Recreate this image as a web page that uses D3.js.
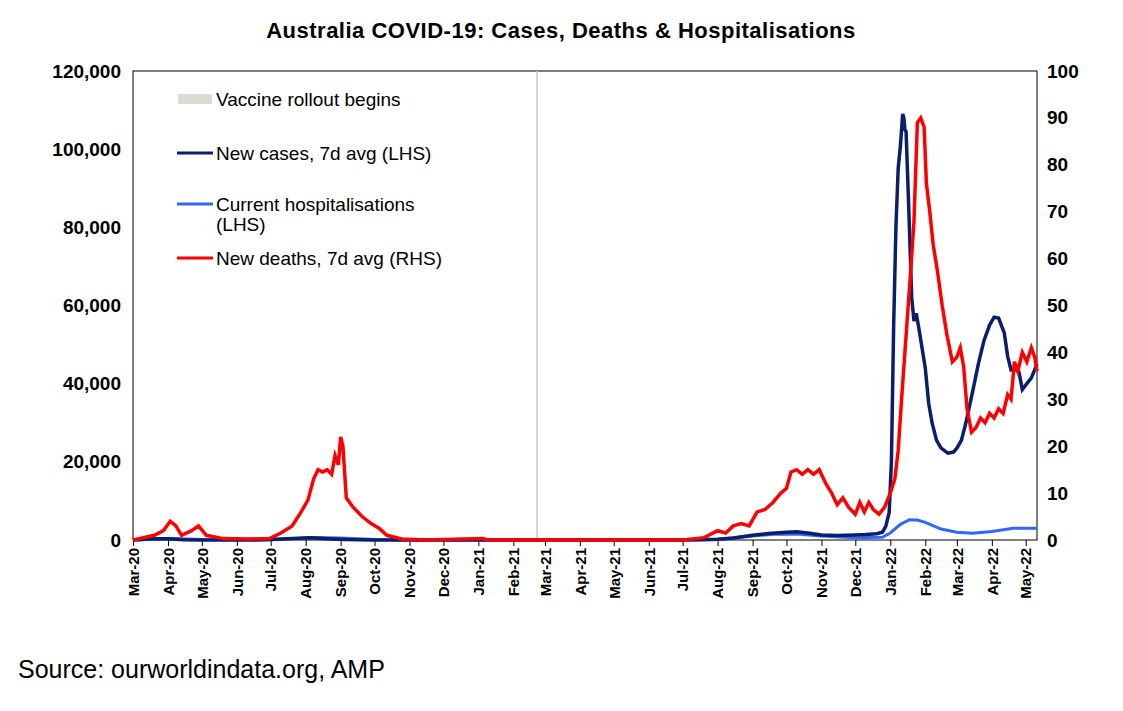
<!DOCTYPE html>
<html>
<head>
<meta charset="utf-8">
<script src="https://cdn.jsdelivr.net/npm/d3@7"></script>
<style>
  body { margin: 0; background: #fff; font-family: Arial, "Liberation Sans", sans-serif; }
</style>
</head>
<body>
<svg id="chart" width="1123" height="711"></svg>
<script>
// Series: [date, value]
const casesData = [
  ["2020-03-01",0],["2020-03-20",300],["2020-04-01",350],["2020-04-15",50],["2020-05-01",20],
  ["2020-06-15",10],["2020-07-01",100],["2020-07-20",400],["2020-08-05",550],["2020-08-20",350],
  ["2020-09-05",100],["2020-09-30",20],["2021-01-01",20],["2021-06-30",10],["2021-07-15",50],
  ["2021-08-01",200],["2021-08-15",500],["2021-09-01",1200],["2021-09-15",1650],["2021-10-01",2000],
  ["2021-10-10",2100],["2021-10-20",1800],["2021-11-01",1300],["2021-11-15",1150],["2021-12-01",1300],
  ["2021-12-10",1400],["2021-12-20",1600],["2021-12-25",2000],["2021-12-28",3500],["2021-12-31",7000],
  ["2022-01-02",20000],["2022-01-04",55000],["2022-01-06",80000],["2022-01-08",95000],["2022-01-10",101000],
  ["2022-01-12",109000],["2022-01-13",108000],["2022-01-14",105000],["2022-01-15",104500],["2022-01-17",88000],
  ["2022-01-20",62000],["2022-01-22",56000],["2022-01-24",58000],["2022-01-27",53000],["2022-02-01",44000],
  ["2022-02-04",35000],["2022-02-07",30000],["2022-02-11",25500],["2022-02-15",23500],["2022-02-21",22200],
  ["2022-02-26",22500],["2022-03-01",23500],["2022-03-05",25500],["2022-03-09",30000],["2022-03-15",38000],
  ["2022-03-20",45000],["2022-03-25",51000],["2022-03-30",55000],["2022-04-03",57000],["2022-04-07",56800],
  ["2022-04-12",53000],["2022-04-15",47000],["2022-04-18",43500],["2022-04-22",43600],["2022-04-25",43000],
  ["2022-04-28",38500],["2022-05-02",40000],["2022-05-06",41500],["2022-05-11",45000]
];
const hospData = [
  ["2020-03-01",0],["2020-04-05",400],["2020-05-01",100],["2020-07-01",50],["2020-08-10",650],
  ["2020-09-01",500],["2020-10-01",100],["2020-11-01",20],["2021-07-01",20],["2021-08-01",100],
  ["2021-09-01",1000],["2021-09-20",1500],["2021-10-10",1550],["2021-11-01",1000],["2021-12-01",600],
  ["2021-12-25",700],["2022-01-01",1800],["2022-01-10",4000],["2022-01-18",5200],["2022-01-25",5100],
  ["2022-02-01",4500],["2022-02-15",2800],["2022-03-01",2000],["2022-03-15",1700],["2022-04-01",2200],
  ["2022-04-20",3000],["2022-05-11",3000]
];
const deathsData = [
  ["2020-03-01",0],["2020-03-20",1],["2020-03-28",2],["2020-04-03",4],["2020-04-08",3],["2020-04-13",1],
  ["2020-04-22",2],["2020-04-28",3],["2020-05-05",1],["2020-05-20",0.3],["2020-06-10",0.2],["2020-06-30",0.3],
  ["2020-07-10",1.5],["2020-07-20",3],["2020-07-28",6],["2020-08-03",8.5],["2020-08-08",13],["2020-08-12",15],
  ["2020-08-16",14.5],["2020-08-20",15],["2020-08-24",14],["2020-08-27",18],["2020-08-30",16],["2020-09-01",22],
  ["2020-09-03",20],["2020-09-06",9],["2020-09-12",7],["2020-09-20",5],["2020-09-28",3.5],["2020-10-05",2.5],
  ["2020-10-12",1],["2020-10-25",0.2],["2020-11-15",0],["2021-01-05",0.3],["2021-01-10",0],["2021-07-01",0],
  ["2021-07-20",0.5],["2021-08-01",2],["2021-08-08",1.5],["2021-08-15",3],["2021-08-22",3.5],["2021-08-29",3],
  ["2021-09-05",6],["2021-09-12",6.5],["2021-09-19",8],["2021-09-26",10],["2021-10-01",11],["2021-10-05",14.5],
  ["2021-10-10",15],["2021-10-15",14],["2021-10-20",15],["2021-10-25",14],["2021-10-30",15],["2021-11-05",12],
  ["2021-11-10",10],["2021-11-15",7.5],["2021-11-20",9],["2021-11-25",7],["2021-12-01",5.5],["2021-12-05",8],
  ["2021-12-09",6],["2021-12-13",8],["2021-12-17",6.5],["2021-12-22",5.5],["2021-12-27",7],["2022-01-01",10],
  ["2022-01-05",13],["2022-01-08",19],["2022-01-11",30],["2022-01-16",47],["2022-01-19",57],["2022-01-22",68],
  ["2022-01-25",89],["2022-01-28",90],["2022-01-31",88],["2022-02-02",76],["2022-02-05",70],["2022-02-08",63],
  ["2022-02-12",57],["2022-02-16",50],["2022-02-20",44],["2022-02-25",38],["2022-03-01",39],["2022-03-04",41],
  ["2022-03-07",37],["2022-03-10",28],["2022-03-14",23],["2022-03-18",24],["2022-03-22",26],["2022-03-26",25],
  ["2022-03-30",27],["2022-04-03",26],["2022-04-07",28],["2022-04-11",27],["2022-04-15",31],["2022-04-18",30],
  ["2022-04-21",38],["2022-04-24",36],["2022-04-28",40],["2022-05-02",38],["2022-05-06",41],["2022-05-09",39],
  ["2022-05-11",36]
];
const vaccineDate = "2021-02-22";
const leftTicks = [0, 20000, 40000, 60000, 80000, 100000, 120000];
const rightTicks = [0, 10, 20, 30, 40, 50, 60, 70, 80, 90, 100];

const parse = d3.timeParse("%Y-%m-%d");
const svg = d3.select("#chart");
const plotLeft = 133, plotRight = 1037, plotTop = 71, plotBottom = 540;

const x = d3.scaleTime().domain([parse("2020-03-01"), parse("2022-05-11")]).range([plotLeft, plotRight]);
const yL = d3.scaleLinear().domain([0, 120000]).range([plotBottom, plotTop]);
const yR = d3.scaleLinear().domain([0, 100]).range([plotBottom, plotTop]);

// Title
svg.append("text").attr("x", 561).attr("y", 38).attr("text-anchor", "middle")
  .style("font-size", "22px").style("font-weight", "bold").style("letter-spacing", "0.5px")
  .text("Australia COVID-19: Cases, Deaths & Hospitalisations");

// Frame
svg.append("rect").attr("x", plotLeft).attr("y", plotTop).attr("width", plotRight - plotLeft).attr("height", plotBottom - plotTop)
  .attr("fill", "none").attr("stroke", "#000").attr("stroke-width", 1);

// Vaccine line
svg.append("line").attr("x1", x(parse(vaccineDate))).attr("x2", x(parse(vaccineDate)))
  .attr("y1", plotTop).attr("y2", plotBottom).attr("stroke", "#c8c8c8").attr("stroke-width", 1.5);

// Axes
const xAxis = svg.append("g").attr("transform", `translate(0,${plotBottom})`)
  .call(d3.axisBottom(x).ticks(d3.timeMonth.every(1)).tickFormat(d3.timeFormat("%b-%y")).tickSize(6));
xAxis.select(".domain").remove();
xAxis.selectAll("text").attr("transform", "rotate(-90)").attr("text-anchor", "end")
  .attr("x", -8).attr("y", 0).attr("dy", "0.35em")
  .style("font-size", "15px").style("font-weight", "bold").style("font-family", "Arial, Liberation Sans");

const yAxisL = svg.append("g").attr("transform", `translate(${plotLeft},0)`)
  .call(d3.axisLeft(yL).tickValues(leftTicks).tickFormat(d3.format(",")).tickSize(0).tickPadding(12));
yAxisL.select(".domain").remove();
yAxisL.selectAll("text").style("font-size", "19px").style("font-weight", "bold").style("font-family", "Arial, Liberation Sans");

const yAxisR = svg.append("g").attr("transform", `translate(${plotRight},0)`)
  .call(d3.axisRight(yR).tickValues(rightTicks).tickSize(0).tickPadding(10));
yAxisR.select(".domain").remove();
yAxisR.selectAll("text").style("font-size", "19px").style("font-weight", "bold").style("font-family", "Arial, Liberation Sans");

// Lines
const lineL = d3.line().x(d => x(parse(d[0]))).y(d => yL(d[1]));
const lineR = d3.line().x(d => x(parse(d[0]))).y(d => yR(d[1]));

svg.append("path").datum(hospData).attr("d", lineL).attr("fill", "none")
  .attr("stroke", "#3366ff").attr("stroke-width", 3);
svg.append("path").datum(casesData).attr("d", lineL).attr("fill", "none")
  .attr("stroke", "#0a1f6b").attr("stroke-width", 3.5);
svg.append("path").datum(deathsData).attr("d", lineR).attr("fill", "none")
  .attr("stroke", "#ff0000").attr("stroke-width", 3.5);

// Legend
const legend = [
  { label: ["Vaccine rollout begins"], color: "#dcdcd4", type: "rect", y: 99 },
  { label: ["New cases, 7d avg (LHS)"], color: "#0a1f6b", type: "line", y: 153 },
  { label: ["Current hospitalisations", "(LHS)"], color: "#3366ff", type: "line", y: 204 },
  { label: ["New deaths, 7d avg (RHS)"], color: "#ff0000", type: "line", y: 258 }
];
legend.forEach(l => {
  if (l.type === "rect") {
    svg.append("rect").attr("x", 178).attr("y", l.y - 5).attr("width", 34).attr("height", 10).attr("fill", l.color);
  } else {
    svg.append("line").attr("x1", 177).attr("x2", 213).attr("y1", l.y).attr("y2", l.y)
      .attr("stroke", l.color).attr("stroke-width", 3);
  }
  l.label.forEach((t, i) => {
    svg.append("text").attr("x", 216).attr("y", l.y + 7 + i * 20).style("font-size", "19px").text(t);
  });
});

// Source
svg.append("text").attr("x", 18).attr("y", 678).style("font-size", "25px")
  .text("Source: ourworldindata.org, AMP");
</script>
</body>
</html>
